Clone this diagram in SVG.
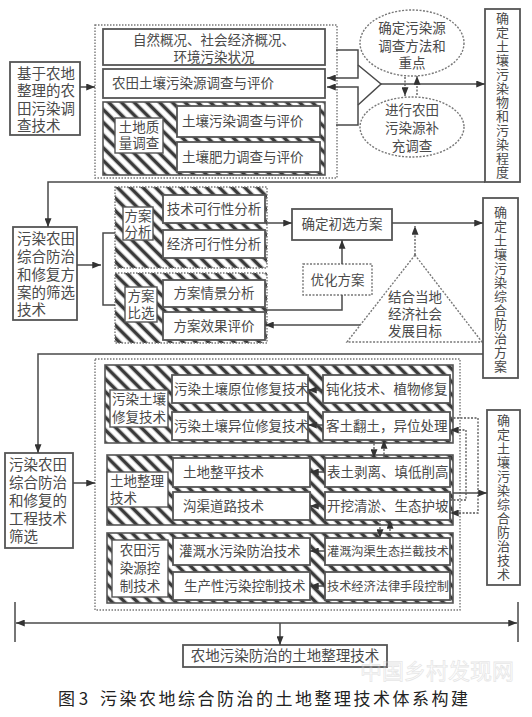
<svg xmlns="http://www.w3.org/2000/svg" width="532" height="717" viewBox="0 0 532 717">
<style>
text{font-family:"Noto Sans CJK SC","Liberation Sans",sans-serif;font-size:13.5px;fill:#4a4a4a}
.c{text-anchor:middle}
.v{writing-mode:vertical-rl;text-anchor:middle;font-size:13px;letter-spacing:1px}
.box{fill:#fff;stroke:#555;stroke-width:1.8}
.lbl{fill:#fff;stroke:#555;stroke-width:1.4}
.hat{fill:url(#hatch);stroke:#555;stroke-width:1.6}
.hatd{fill:url(#hatch);stroke:#777;stroke-width:1.4;stroke-dasharray:1.5 1.5}
.dot{fill:none;stroke:#777;stroke-width:1.4;stroke-dasharray:1.5 1.5}
.ln{fill:none;stroke:#4a4a4a;stroke-width:1.5}
.dl{fill:none;stroke:#555;stroke-width:1.3;stroke-dasharray:2 1.5}
.a{marker-end:url(#arr)}
.big{font-size:14.5px}
.cap{font-size:17px;fill:#222}
</style>
<defs>
<pattern id="hatch" patternUnits="userSpaceOnUse" width="9" height="9" patternTransform="rotate(-45)">
<rect width="9" height="9" fill="#fff"/>
<line x1="4.5" y1="0" x2="4.5" y2="9" stroke="#3a3a3a" stroke-width="3.6"/>
</pattern>
<marker id="arr" viewBox="0 0 10 8" markerUnits="userSpaceOnUse" markerWidth="9" markerHeight="7" refX="10" refY="4" orient="auto">
<path d="M0,0 L10,4 L0,8 z" fill="#333"/>
</marker>
</defs>
<rect width="532" height="717" fill="#fff"/>

<!-- ========== Section 1 ========== -->
<g id="s1-left">
<rect class="box" x="10" y="62" width="70" height="73"/>
<text class="big"><tspan x="17" y="79">基于农地</tspan><tspan x="17" y="96">整理的农</tspan><tspan x="17" y="114">田污染调</tspan><tspan x="17" y="131">查技术</tspan></text>
</g>
<g id="s1-group">
<rect class="dot" x="95" y="25" width="242" height="153"/>
</g>
<g id="s1-natural">
<rect class="box" x="103" y="29" width="222" height="36"/>
<text class="c"><tspan x="214" y="45">自然概况、社会经济概况、</tspan><tspan x="214" y="62">环境污染状况</tspan></text>
</g>
<g id="s1-source">
<rect class="box" x="103" y="69" width="222" height="29"/>
<text x="112" y="88">农田土壤污染源调查与评价</text>
</g>
<g id="s1-quality">
<rect class="hat" x="103" y="102" width="222" height="73"/>
<rect class="lbl" x="115" y="118" width="48" height="35"/>
<text class="c"><tspan x="139" y="132">土地质</tspan><tspan x="139" y="148">量调查</tspan></text>
</g>
<g id="s1-soilpoll">
<rect class="box" x="177" y="106" width="143" height="31"/>
<text x="182" y="126">土壤污染调查与评价</text>
</g>
<g id="s1-fertility">
<rect class="box" x="177" y="142" width="143" height="30"/>
<text x="182" y="162">土壤肥力调查与评价</text>
</g>
<g id="s1-ell1">
<ellipse cx="412" cy="43" rx="52" ry="33" fill="#fff" stroke="#777" stroke-width="1.4" stroke-dasharray="2 1.5"/>
<text class="c"><tspan x="412" y="33">确定污染源</tspan><tspan x="412" y="51">调查方法和</tspan><tspan x="412" y="68">重点</tspan></text>
</g>
<g id="s1-ell2">
<ellipse cx="412" cy="127" rx="52" ry="30" fill="#fff" stroke="#777" stroke-width="1.4" stroke-dasharray="2 1.5"/>
<text class="c"><tspan x="412" y="115">进行农田</tspan><tspan x="412" y="133">污染源补</tspan><tspan x="412" y="151">充调查</tspan></text>
</g>
<g id="s1-right">
<rect class="box" x="485" y="9" width="35" height="173"/>
<text class="v" x="502.5" y="95.5">确定土壤污染物和污染程度</text>
</g>

<!-- ========== Section 2 ========== -->
<g id="s2-left">
<rect class="box" x="13" y="227" width="64" height="93"/>
<text class="big"><tspan x="17" y="244">污染农田</tspan><tspan x="17" y="262">综合防治</tspan><tspan x="17" y="280">和修复方</tspan><tspan x="17" y="298">案的筛选</tspan><tspan x="17" y="315">技术</tspan></text>
</g>
<g id="s2-analysis">
<rect class="hatd" x="115" y="187" width="152" height="81"/>
<rect class="lbl" x="123" y="207" width="30" height="33"/>
<text class="c"><tspan x="138" y="221">方案</tspan><tspan x="138" y="237">分析</tspan></text>
</g>
<g id="s2-tech">
<rect class="box" x="163" y="195" width="102" height="28"/>
<text class="c" x="214" y="214">技术可行性分析</text>
</g>
<g id="s2-econ">
<rect class="box" x="163" y="230" width="102" height="28"/>
<text class="c" x="214" y="249">经济可行性分析</text>
</g>
<g id="s2-compare">
<rect class="hatd" x="115" y="273" width="152" height="70"/>
<rect class="lbl" x="125" y="287" width="32" height="35"/>
<text class="c"><tspan x="141" y="301">方案</tspan><tspan x="141" y="318">比选</tspan></text>
</g>
<g id="s2-scene">
<rect class="box" x="163" y="280" width="102" height="27"/>
<text class="c" x="214" y="298">方案情景分析</text>
</g>
<g id="s2-effect">
<rect class="box" x="163" y="312" width="102" height="28"/>
<text class="c" x="214" y="331">方案效果评价</text>
</g>
<g id="s2-initial">
<rect class="box" x="292" y="209" width="100" height="31"/>
<text class="c" x="342" y="229">确定初选方案</text>
</g>
<g id="s2-optimize">
<rect x="303" y="264" width="69" height="31" fill="#fff" stroke="#777" stroke-width="1.4" stroke-dasharray="2 1.5"/>
<text class="c" x="337.5" y="285">优化方案</text>
</g>
<g id="s2-goal">
<polygon points="415,255 347,342 482,342" fill="#fff" stroke="#777" stroke-width="1.4" stroke-dasharray="2 1.5"/>
<text class="c"><tspan x="415" y="302">结合当地</tspan><tspan x="415" y="319">经济社会</tspan><tspan x="415" y="336">发展目标</tspan></text>
</g>
<g id="s2-right">
<rect class="box" x="483" y="198" width="35" height="180"/>
<text class="v" x="500.5" y="290">确定土壤污染综合防治方案</text>
</g>

<!-- ========== Section 3 ========== -->
<g id="s3-left">
<rect class="box" x="5" y="453" width="68" height="95"/>
<text class="big"><tspan x="9" y="470">污染农田</tspan><tspan x="9" y="488">综合防治</tspan><tspan x="9" y="506">和修复的</tspan><tspan x="9" y="524">工程技术</tspan><tspan x="9" y="542">筛选</tspan></text>
</g>
<g id="s3-group">
<rect class="dot" x="95" y="359" width="365" height="251"/>
</g>
<g id="s3-repair">
<rect class="hat" x="105" y="365" width="348" height="78"/>
<rect class="lbl" x="110" y="390" width="58" height="37"/>
<text><tspan x="112" y="404">污染土壤</tspan><tspan x="112" y="422">修复技术</tspan></text>
</g>
<g id="s3-insitu">
<rect class="box" x="172" y="375" width="136" height="28"/>
<text x="174" y="394">污染土壤原位修复技术</text>
</g>
<g id="s3-exsitu">
<rect class="box" x="172" y="412" width="136" height="28"/>
<text x="174" y="431">污染土壤异位修复技术</text>
</g>
<g id="s3-passiv">
<rect class="box" x="323" y="375" width="127" height="28"/>
<text x="326" y="394">钝化技术、植物修复</text>
</g>
<g id="s3-soilturn">
<rect class="box" x="323" y="412" width="127" height="28"/>
<text x="326" y="431">客土翻土，异位处理</text>
</g>
<g id="s3-consol">
<rect class="hat" x="107" y="455" width="346" height="70"/>
<rect class="lbl" x="107" y="472" width="61" height="35"/>
<text><tspan x="110" y="486">土地整理</tspan><tspan x="110" y="503">技术</tspan></text>
</g>
<g id="s3-level">
<rect class="box" x="173" y="458" width="137" height="29"/>
<text x="183" y="477">土地整平技术</text>
</g>
<g id="s3-ditch">
<rect class="box" x="173" y="492" width="137" height="28"/>
<text x="183" y="511">沟渠道路技术</text>
</g>
<g id="s3-strip">
<rect class="box" x="325" y="458" width="125" height="29"/>
<text x="327" y="477">表土剥离、填低削高</text>
</g>
<g id="s3-dredge">
<rect class="box" x="325" y="492" width="125" height="28"/>
<text x="327" y="511">开挖清淤、生态护坡</text>
</g>
<g id="s3-control">
<rect class="hat" x="107" y="533" width="346" height="70"/>
<rect class="lbl" x="112" y="540" width="56" height="57"/>
<text class="c"><tspan x="140" y="555">农田污</tspan><tspan x="140" y="573">染源控</tspan><tspan x="140" y="591">制技术</tspan></text>
</g>
<g id="s3-irrig">
<rect class="box" x="173" y="538" width="137" height="27"/>
<text x="179" y="556">灌溉水污染防治技术</text>
</g>
<g id="s3-product">
<rect class="box" x="173" y="572" width="137" height="28"/>
<text x="184" y="591">生产性污染控制技术</text>
</g>
<g id="s3-intercept">
<rect class="box" x="325" y="538" width="125" height="27"/>
<text x="327" y="556" style="font-size:12.2px">灌溉沟渠生态拦截技术</text>
</g>
<g id="s3-econlaw">
<rect class="box" x="325" y="572" width="125" height="28"/>
<text x="327" y="591" style="font-size:12.2px">技术经济法律手段控制</text>
</g>
<g id="s3-right">
<rect class="box" x="487" y="410" width="33" height="175"/>
<text class="v" x="503.5" y="498">确定土壤污染综合防治技术</text>
</g>

<!-- ========== Bottom ========== -->
<g id="bottom-box">
<rect class="box" x="183" y="645" width="204" height="22"/>
<text class="c big" x="285" y="661">农地污染防治的土地整理技术</text>
</g>
<g id="watermark" opacity="0.35">
<text x="360" y="679" style="font-size:22px;fill:#fff;stroke:#bbb;stroke-width:0.8">中国乡村发现网</text>
</g>
<g id="caption">
<text class="cap" x="58" y="705">图 3</text>
<text class="cap" x="100" y="705" textLength="368" lengthAdjust="spacing">污染农地综合防治的土地整理技术体系构建</text>
</g>

<!-- ========== Connectors ========== -->
<g id="connectors">
<!-- section 1 -->
<path class="ln a" d="M80 87 H95"/>
<path class="ln a" d="M336 50 H358 V78 H327"/>
<path class="ln a" d="M336 125 H358 V87 H327"/>
<path class="ln" d="M358 65 L381 84 L358 105"/>
<path class="ln a" d="M381 84 H485"/>
<path class="dl a" d="M405 77 V96"/>
<path class="dl a" d="M417 95 V76"/>
<path class="ln a" d="M485 182 H48 V227"/>
<!-- section 2 -->
<path class="ln a" d="M77 265 H101"/>
<path class="ln" d="M115 233 H103 V305 H115"/>
<path class="ln a" d="M267 223 H292"/>
<path class="ln a" d="M392 223 H483"/>
<path class="dl a" d="M415 255 V226"/>
<path class="ln a" d="M342 264 V240"/>
<path class="ln" d="M342 295 V310 H265"/>
<path class="ln a" d="M360 325 H265"/>
<path class="ln a" d="M483 354 H38 V453"/>
<!-- section 3 -->
<path class="ln a" d="M73 483 H95"/>
<path class="ln a" d="M323 390 H308"/>
<path class="ln a" d="M323 425 H308"/>
<path class="ln a" d="M325 472 H310"/>
<path class="ln a" d="M325 506 H310"/>
<path class="ln a" d="M325 551 H310"/>
<path class="ln a" d="M325 586 H310"/>
<path class="dl a" d="M374 440 V458"/>
<path class="dl a" d="M384 458 V440"/>
<path class="dl a" d="M380 520 V538"/>
<path class="dl a" d="M390 538 V520"/>
<path class="dl a" d="M450 418 H478 V513 H450"/>
<path class="dl a" d="M450 500 H466 V430 H450"/>
<path class="ln a" d="M453 493 H487"/>
<!-- bottom -->
<path class="ln" d="M15 602 V642 M518 602 V642"/>
<path class="ln a" d="M266 623 H16"/>
<path class="ln a" d="M266 623 H517"/>
<path class="ln a" d="M280 623 V645"/>
</g>
</svg>
